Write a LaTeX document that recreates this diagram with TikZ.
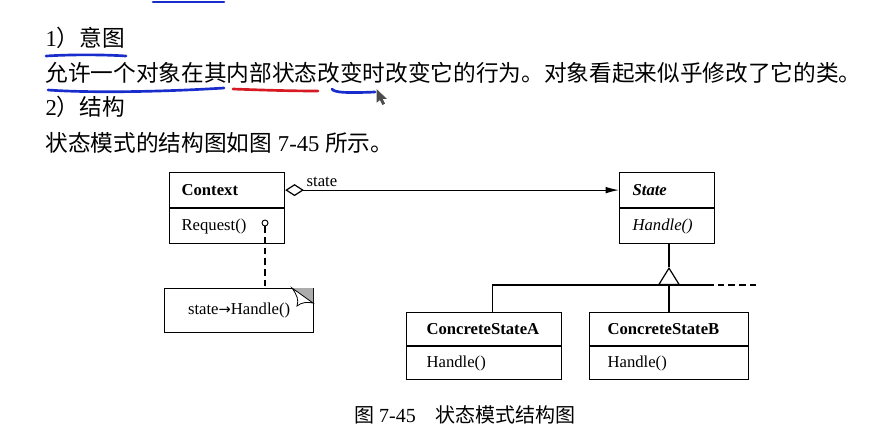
\documentclass[tikz,border=0pt]{standalone}
\usepackage{fontspec}
\setmainfont{Liberation Serif}
\newfontfamily\cjk{Noto Sans CJK SC}
\newfontfamily\arrowfont{DejaVu Sans}
\usetikzlibrary{arrows.meta,positioning}
\definecolor{penblue}{RGB}{25,45,205}
\definecolor{penred}{RGB}{215,25,35}
\newcommand\umlfont{\fontsize{12.5}{15}\selectfont}
\newcommand\txtfont{\fontsize{17}{20}\selectfont}
\newcommand\capfont{\fontsize{15}{18}\selectfont}
\begin{document}
\begin{tikzpicture}[x=0.75pt,y=-0.75pt,line width=0.9pt]
  \tikzset{
    part/.style={draw,anchor=north west,align=left,inner ysep=0pt,minimum height=26.25pt,font=\umlfont},
    txt/.style={anchor=west,inner sep=0pt,font=\txtfont},
    pen/.style={line width=2pt,line cap=round,penblue}
  }
  \useasboundingbox (0,0) rectangle (887,440);
  % text above the figure
  \node[txt] (t1) at (45,38) {1{\cjk ）意图}};
  \node[txt] (t2) at (45,73) {\cjk 允许一个对象在其内部状态改变时改变它的行为。对象看起来似乎修改了它的类。};
  \node[txt] (t3) at (45,107) {2{\cjk ）结构}};
  \node[txt] (t4) at (45,143) {{\cjk 状态模式的结构图如图} 7-45 {\cjk 所示。}};
  \draw[pen] (153,2) -- (224,2);
  \draw[pen] (46,56) .. controls (80,54) and (110,55) .. (126,56);
  \draw[pen] (48,90) .. controls (90,93) and (160,92) .. (224,88);
  \draw[pen,penred] (233,89) .. controls (260,90) and (290,91) .. (318,91);
  \draw[pen] (332,89) .. controls (334,93) and (350,93) .. (375,92);
  \draw[fill=white,line width=.5pt,gray!60!black] (377,90) -- (377,102) -- (380,99.5) -- (382.5,104.5)
    -- (384.5,103.5) -- (382,98.5) -- (386,98.5) -- cycle;
  % classes
  \node[part,text width=68.25pt,inner xsep=9pt] (ctx) at (169,172) {\textbf{Context}};
  \node[part,text width=68.25pt,inner xsep=9pt] (req) at (ctx.south west) {Request()};
  \node[part,text width=51.75pt,inner xsep=9.75pt] (st) at (619,172) {\textbf{\textit{State}}};
  \node[part,text width=51.75pt,inner xsep=9.75pt] (sth) at (st.south west) {\textit{Handle()}};
  \node[part,text width=86.25pt,inner xsep=15pt,minimum height=24.75pt] (ca) at (406,312) {\textbf{ConcreteStateA}};
  \node[part,text width=86.25pt,inner xsep=15pt,minimum height=24.75pt] (cah) at (ca.south west) {Handle()};
  \node[part,text width=92.25pt,inner xsep=13.5pt,minimum height=24.75pt] (cb) at (589,312) {\textbf{ConcreteStateB}};
  \node[part,text width=92.25pt,inner xsep=13.5pt,minimum height=24.75pt] (cbh) at (cb.south west) {Handle()};
  % note
  \node[draw,anchor=north west,minimum width=111.75pt,minimum height=33pt,font=\umlfont] (note) at (164,288) {state{\arrowfont\fontsize{11}{13}\selectfont →}Handle()};
  \fill[gray!65] (292,288) -- (313,288) -- (313,303) -- cycle;
  \draw[fill=white,line width=.6pt] (292,288) .. controls (297,295) and (299,300) .. (297,306)
    .. controls (302,302) and (307,302) .. (313,303) -- cycle;
  \node[draw,circle,inner sep=0pt,minimum size=4.5pt,line width=.7pt,fill=white] (hook) at (265,223) {};
  \draw[dash pattern=on 5pt off 3pt] (hook) -- (hook |- note.north);
  % association
  \draw[{Diamond[open,length=14pt,width=9pt]}-{Latex[length=10pt,width=5pt]}] (ctx.east) --
    node[pos=.11,above,font=\umlfont,inner sep=2pt] (lbl) {state} (st.west);
  % inheritance
  \coordinate (base) at (669,285);
  \coordinate (apex) at (669,267);
  \coordinate (barend) at (707,285);
  \coordinate (dashend) at (757,285);
  \draw (sth.south -| apex) -- (apex);
  \draw ([xshift=6.4pt]ca.north) |- (base) -- (barend);
  \draw[dash pattern=on 5pt off 3pt] (barend) -- (dashend);
  \draw (base) -- (cb.north -| base);
  \draw[-{Triangle[open,length=13.5pt,width=16.5pt]}] (base) -- (apex);
  % caption
  \node[font=\capfont] (cap) at (465,415) {{\cjk 图} 7-45\hspace{15pt}{\cjk 状态模式结构图}};
\end{tikzpicture}
\end{document}
